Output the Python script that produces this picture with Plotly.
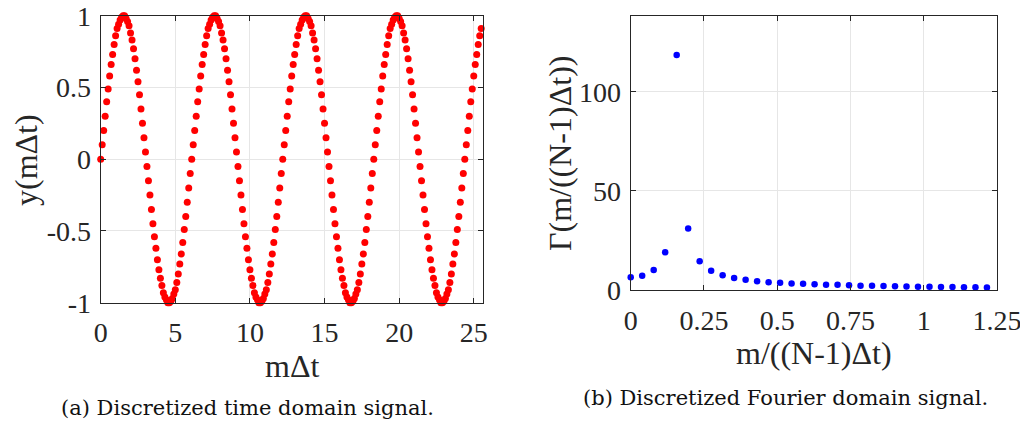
import plotly.graph_objects as go

# ---------------- data ----------------
dt = 0.1
y_time = [
    0.00, 0.10, 0.20, 0.30, 0.40, 0.49, 0.58, 0.66, 0.73, 0.80, 0.86, 0.91, 0.94, 0.97, 0.99, 1.00,
    1.00, 0.98, 0.96, 0.93, 0.88, 0.83, 0.77, 0.70, 0.62, 0.54, 0.45, 0.35, 0.25, 0.15, 0.05,
    -0.05, -0.15, -0.25, -0.35, -0.45, -0.54, -0.62, -0.70, -0.77, -0.83, -0.88, -0.93, -0.96, -0.98, -1.00,
    -1.00, -0.99, -0.97, -0.94, -0.91, -0.86, -0.80, -0.73, -0.66, -0.58, -0.49, -0.40, -0.30, -0.20, -0.10,
    0.00, 0.10, 0.20, 0.30, 0.40, 0.49, 0.58, 0.66, 0.73, 0.80, 0.86, 0.91, 0.94, 0.97, 0.99, 1.00,
    1.00, 0.98, 0.96, 0.93, 0.88, 0.83, 0.77, 0.70, 0.62, 0.54, 0.45, 0.35, 0.25, 0.15, 0.05,
    -0.05, -0.15, -0.25, -0.35, -0.45, -0.54, -0.62, -0.70, -0.77, -0.83, -0.88, -0.93, -0.96, -0.98, -1.00,
    -1.00, -0.99, -0.97, -0.94, -0.91, -0.86, -0.80, -0.73, -0.66, -0.58, -0.49, -0.40, -0.30, -0.20, -0.10,
    0.00, 0.10, 0.20, 0.30, 0.40, 0.49, 0.58, 0.66, 0.73, 0.80, 0.86, 0.91, 0.94, 0.97, 0.99, 1.00,
    1.00, 0.98, 0.96, 0.93, 0.88, 0.83, 0.77, 0.70, 0.62, 0.54, 0.45, 0.35, 0.25, 0.15, 0.05,
    -0.05, -0.15, -0.25, -0.35, -0.45, -0.54, -0.62, -0.70, -0.77, -0.83, -0.88, -0.93, -0.96, -0.98, -1.00,
    -1.00, -0.99, -0.97, -0.94, -0.91, -0.86, -0.80, -0.73, -0.66, -0.58, -0.49, -0.40, -0.30, -0.20, -0.10,
    0.00, 0.10, 0.20, 0.30, 0.40, 0.49, 0.58, 0.66, 0.73, 0.80, 0.86, 0.91, 0.94, 0.97, 0.99, 1.00,
    1.00, 0.98, 0.96, 0.93, 0.88, 0.83, 0.77, 0.70, 0.62, 0.54, 0.45, 0.35, 0.25, 0.15, 0.05,
    -0.05, -0.15, -0.25, -0.35, -0.45, -0.54, -0.62, -0.70, -0.77, -0.83, -0.88, -0.93, -0.96, -0.98, -1.00,
    -1.00, -0.99, -0.97, -0.94, -0.91, -0.86, -0.80, -0.73, -0.66, -0.58, -0.49, -0.40, -0.30, -0.20, -0.10,
    0.00, 0.10, 0.20, 0.30, 0.40, 0.49, 0.58, 0.66, 0.73, 0.80, 0.86, 0.91,
]
t_time = [k * dt for k in range(len(y_time))]

# Fourier-domain magnitudes
gamma = [6.4, 7.2, 10.1, 19.0, 118.7, 31.1, 14.5, 9.7, 7.4, 6.1, 5.2, 4.4, 3.9, 3.6, 3.3,
         3.1, 2.9, 2.7, 2.6, 2.4, 2.2, 2.1, 2.0, 1.9, 1.8, 1.7, 1.6, 1.5, 1.5, 1.4, 1.4, 1.3, 1.3]
T_total = 25.5
freq = [m / T_total for m in range(len(gamma))]

left_xticks = [0, 5, 10, 15, 20, 25]
left_yticks = [-1, -0.5, 0, 0.5, 1]
left_yticklabels = ["-1", "-0.5", "0", "0.5", "1"]
right_xticks = [0, 0.25, 0.5, 0.75, 1, 1.25]
right_xticklabels = ["0", "0.25", "0.5", "0.75", "1", "1.25"]
right_yticks = [0, 50, 100]

# ---------------- figure ----------------
# the page body has an 8px default margin: work in page pixels and subtract it
OFF = 8
W, H = 1020, 415
SERIF = "Liberation Serif"
CAP = "DejaVu Serif"
AX = "#262626"
GRID = "#e6e6e6"

fig = go.Figure()
fig.add_trace(go.Scatter(x=t_time, y=y_time, mode="markers", xaxis="x", yaxis="y",
                         marker=dict(color="#ff0000", size=7), cliponaxis=False, showlegend=False))
fig.add_trace(go.Scatter(x=freq, y=gamma, mode="markers", xaxis="x2", yaxis="y2",
                         marker=dict(color="#0000ff", size=6.5), cliponaxis=False, showlegend=False))

def px_x(p):
    return (p - OFF) / W

def px_y(p):
    return 1 - (p - OFF) / H

axis_common = dict(showline=True, linecolor=AX, linewidth=1, mirror="ticks", ticks="inside",
                   ticklen=5, tickcolor=AX, showgrid=True, gridcolor=GRID, gridwidth=1,
                   zeroline=False, automargin=False, ticklabeloverflow="allow",
                   tickfont=dict(family=SERIF, size=28, color="#262626"))

fig.update_layout(
    template="none",
    width=W, height=H, margin=dict(l=0, r=0, t=0, b=0),
    paper_bgcolor="white", plot_bgcolor="white",
    xaxis=dict(domain=[px_x(100.7), px_x(482.7)], range=[0, 25.6], tickvals=left_xticks,
               anchor="y", ticklabelstandoff=5, **axis_common),
    yaxis=dict(domain=[px_y(302.7), px_y(15.7)], range=[-1, 1], tickvals=left_yticks,
               ticktext=left_yticklabels, anchor="x", ticklabelstandoff=3, **axis_common),
    xaxis2=dict(domain=[px_x(630.7), px_x(997)], range=[0, 1.25], tickvals=right_xticks,
                ticktext=right_xticklabels, anchor="y2", ticklabelstandoff=5, **axis_common),
    yaxis2=dict(domain=[px_y(290), px_y(15.7)], range=[0, 138.5], tickvals=right_yticks,
                anchor="x2", ticklabelstandoff=3, **axis_common),
)

annos = [
    dict(text="y(m\u0394t)", x=26, y=160, rot=-90, size=32, fam=SERIF),
    dict(text="m\u0394t", x=292, y=366, rot=0, size=32, fam=SERIF),
    dict(text="\u0393(m/((N-1)\u0394t))", x=560, y=154, rot=-90, size=32, fam=SERIF),
    dict(text="m/((N-1)\u0394t)", x=814, y=353, rot=0, size=32, fam=SERIF),
    dict(text="(a) Discretized time domain signal.", x=247, y=408, rot=0, size=21, fam=CAP),
    dict(text="(b) Discretized Fourier domain signal.", x=785, y=398, rot=0, size=21, fam=CAP),
]
for a in annos:
    fig.add_annotation(text=a["text"], x=px_x(a["x"]), y=px_y(a["y"]), xref="paper", yref="paper",
                       xanchor="center", yanchor="middle", showarrow=False, textangle=a["rot"],
                       font=dict(family=a["fam"], size=a["size"], color="#262626" if a["fam"] == SERIF else "#111111"))

fig.write_html("out.html")
